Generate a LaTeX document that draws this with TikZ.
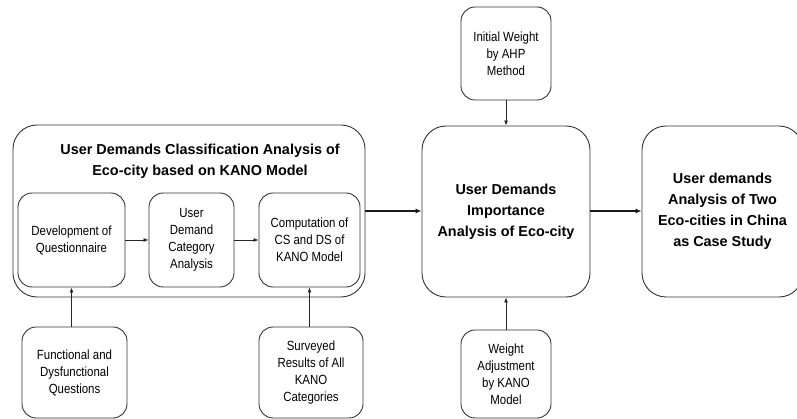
\documentclass[tikz,border=0pt]{standalone}
\usepackage{fontspec}
\setmainfont{Liberation Sans}
\newfontfamily\narrowfont[FakeStretch=0.86]{Liberation Sans}
\usetikzlibrary{arrows.meta}
\begin{document}
\begin{tikzpicture}[x=1pt,y=-1pt,
  box/.style={draw=black!80, line width=0.9pt, rounded corners=14pt, align=center, inner sep=0pt,
    font=\narrowfont\fontsize{13.3}{17}\selectfont},
  bigbox/.style={box, rounded corners=24pt, font=\fontsize{14.4}{21}\selectfont\bfseries},
  arr/.style={draw=black!85, line width=0.8pt, -{Latex[length=5pt,width=4pt]}},
  tarr/.style={draw=black!90, line width=1.8pt, -{Latex[length=6pt,width=5pt]}}]
\useasboundingbox (0,0) rectangle (797,419);
\fill[white] (0,0) rectangle (797,419);
% outer group
\node[bigbox, minimum width=352pt, minimum height=172pt] (outer) at (189,211) {};
\node[align=center, inner sep=0pt, font=\fontsize{14.4}{21}\selectfont\bfseries] (title) at (200,161)
  {User Demands Classification Analysis of\\Eco-city based on KANO Model};
\node[box, minimum width=107pt, minimum height=94pt] (dev) at (71.5,240) {Development of\\Questionnaire};
\node[box, minimum width=85pt, minimum height=94pt] (cat) at (191.5,240) {User\\Demand\\Category\\Analysis};
\node[box, minimum width=101pt, minimum height=94pt] (comp) at (309.5,240) {Computation of\\CS and DS of\\KANO Model};
% bottom inputs
\node[box, minimum width=105pt, minimum height=91pt] (func) at (74.5,372.5) {Functional and\\Dysfunctional\\Questions};
\node[box, minimum width=104pt, minimum height=91pt] (surv) at (311,372.5) {Surveyed\\Results of All\\KANO\\Categories};
% centre
\node[bigbox, minimum width=168pt, minimum height=171pt] (imp) at (506,211.5) {User Demands\\Importance\\Analysis of Eco-city};
\node[bigbox, minimum width=161pt, minimum height=171pt] (case) at (722.5,211.5) {User demands\\Analysis of Two\\Eco-cities in China\\as Case Study};
\node[box, minimum width=90pt, minimum height=93pt] (ahp) at (506,53.5) {Initial Weight\\by AHP\\Method};
\node[box, minimum width=90pt, minimum height=88pt] (adj) at (506,374) {Weight\\Adjustment\\by KANO\\Model};
% connectors
\draw[arr] (dev.east) -- (cat.west);
\draw[arr] (cat.east) -- (comp.west);
\draw[arr] (func.north -| dev.south) -- (dev.south);
\draw[arr] (surv.north -| comp.south) -- (comp.south);
\draw[arr] (ahp.south) -- (imp.north);
\draw[arr] (adj.north) -- (imp.south);
\draw[tarr] (outer.east) -- (outer.east -| imp.west);
\draw[tarr] (imp.east |- outer.east) -- (case.west |- outer.east);
\end{tikzpicture}
\end{document}
